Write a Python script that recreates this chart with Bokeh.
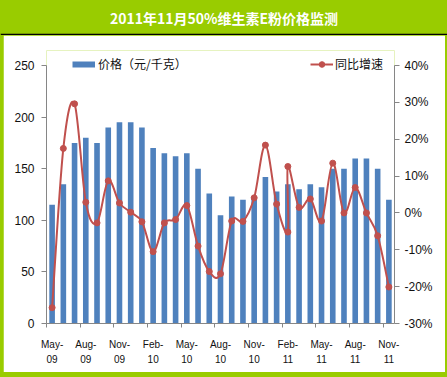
from bokeh.plotting import figure
from bokeh.models import (Range1d, LinearAxis, FixedTicker, Legend, LegendItem,
                          Label, PrintfTickFormatter)
from bokeh.layouts import column
from bokeh.embed import file_html
from bokeh.resources import INLINE

TITLE = "2011年11月50%维生素E粉价格监测"
BAR_NAME = "价格（元/千克）"
LINE_NAME = "同比增速"

months = ["May-09", "Jun-09", "Jul-09", "Aug-09", "Sep-09", "Oct-09", "Nov-09", "Dec-09",
          "Jan-10", "Feb-10", "Mar-10", "Apr-10", "May-10", "Jun-10", "Jul-10", "Aug-10",
          "Sep-10", "Oct-10", "Nov-10", "Dec-10", "Jan-11", "Feb-11", "Mar-11", "Apr-11",
          "May-11", "Jun-11", "Jul-11", "Aug-11", "Sep-11", "Oct-11", "Nov-11"]
price = [115, 135, 175, 180, 175, 190, 195, 195, 190, 170, 165, 162, 165, 150, 126, 105,
         123, 120, 123, 142, 128, 135, 130, 135, 132, 150, 150, 160, 160, 150, 120]

# growth series (Feb-11 appears twice in the source line)
line_months = months[:22] + [months[21]] + months[22:]
growth = [-25.7, 17.5, 29.6, 2.9, -2.7, 8.7, 2.7, 0.2, -2.4, -10.5, -2.7, -1.8, 2.0, -9.0,
          -15.9, -16.5, -2.2, -2.3, 4.1, 18.4, 2.4, -5.2, 12.6, 1.5, 3.8, -2.2, 13.5, 0.0,
          6.9, 0.0, -6.2, -20.1]

tick_months = ["May-09", "Aug-09", "Nov-09", "Feb-10", "May-10", "Aug-10", "Nov-10",
               "Feb-11", "May-11", "Aug-11", "Nov-11"]
left_ticks = [0, 50, 100, 150, 200, 250]
right_ticks = [-30, -20, -10, 0, 10, 20, 30, 40]
left_bounds = (0, 250)
right_bounds = (-30, 40)

GREEN = "#99CC00"
BLUE = "#4F81BD"
RED = "#C0504D"
AXIS_GREY = "#868686"
LABEL_FONT = "Liberation Sans"
CJK_FONT = "Noto Sans CJK SC"

idx = {m: i for i, m in enumerate(months)}
bar_x = [idx[m] + 0.5 for m in months]
line_x = [idx[m] + 0.5 for m in line_months]

# plot-area geometry: axes span AXIS_PX pixels, the frame adds HEAD_PX on top for legends
AXIS_PX = 258
HEAD_PX = 15
scale = (AXIS_PX + HEAD_PX) / AXIS_PX
left_top = left_bounds[0] + (left_bounds[1] - left_bounds[0]) * scale
right_top = right_bounds[0] + (right_bounds[1] - right_bounds[0]) * scale

# ---------------- title strip ----------------
tf = figure(width=447, height=35, toolbar_location=None, output_backend="svg",
            x_range=Range1d(0, 1), y_range=Range1d(0, 1),
            x_axis_type=None, y_axis_type=None,
            min_border_left=0, min_border_right=0, min_border_top=0, min_border_bottom=2,
            background_fill_color=GREEN, border_fill_color="black", outline_line_color=None,
            frame_align=False)
tf.grid.visible = False
tf.add_layout(Label(x=0.5, y=0.5, text=TITLE, text_align="center", text_baseline="middle",
                    text_color="white", text_font=CJK_FONT, text_font_style="bold",
                    text_font_size="14px", y_offset=-1))

# ---------------- main chart ----------------
p = figure(width=442, height=337, toolbar_location=None, output_backend="svg",
           x_range=Range1d(0, len(months)), y_range=Range1d(left_bounds[0], left_top),
           min_border_left=43, min_border_right=51, min_border_top=30 - HEAD_PX,
           min_border_bottom=49,
           background_fill_color="white", border_fill_color="white",
           outline_line_color=None, x_axis_type=None, y_axis_type=None,
           margin=(0, 2, 5, 3), frame_align=False)
p.grid.visible = False
p.extra_y_ranges = {"pct": Range1d(right_bounds[0], right_top)}

bars = p.vbar(x=bar_x, top=price, width=0.5, fill_color=BLUE, line_color=None)

# smoothed line (Catmull-Rom style Bezier segments through the data points)
n = len(line_x)
def pt(i):
    i = max(0, min(n - 1, i))
    return line_x[i], growth[i]
bx0, by0, bx1, by1, bcx0, bcy0, bcx1, bcy1 = ([] for _ in range(8))
for i in range(n - 1):
    x0, y0 = pt(i)
    x1, y1 = pt(i + 1)
    xm, ym = pt(i - 1)
    xp, yp = pt(i + 2)
    bx0.append(x0); by0.append(y0); bx1.append(x1); by1.append(y1)
    bcx0.append(x0 + (x1 - xm) / 6.0); bcy0.append(y0 + (y1 - ym) / 6.0)
    bcx1.append(x1 - (xp - x0) / 6.0); bcy1.append(y1 - (yp - y0) / 6.0)
curve = p.bezier(x0=bx0, y0=by0, x1=bx1, y1=by1, cx0=bcx0, cy0=bcy0, cx1=bcx1, cy1=bcy1,
                 line_color=RED, line_width=2, y_range_name="pct")
marks = p.scatter(x=line_x, y=growth, size=6, marker="circle", fill_color=RED,
                  line_color=RED, y_range_name="pct")

# legend swatch for the bars: a thick blue stroke on the bar data, hidden in the plot
bar_swatch = p.line(x=bar_x, y=price, line_color=BLUE, line_width=6, line_cap="butt",
                    visible=False)

# axes
left = LinearAxis(ticker=FixedTicker(ticks=left_ticks), bounds=left_bounds)
right = LinearAxis(y_range_name="pct", ticker=FixedTicker(ticks=right_ticks),
                   formatter=PrintfTickFormatter(format="%d%%"), bounds=right_bounds)
label_pos = [idx[m] + 0.5 for m in tick_months]
bottom = LinearAxis(ticker=FixedTicker(ticks=label_pos,
                                       minor_ticks=[idx[m] for m in tick_months]))
bottom.major_label_overrides = {idx[m] + 0.5: m.replace("-", "-\n") for m in tick_months}

for ax in (left, right, bottom):
    ax.axis_line_color = AXIS_GREY
    ax.major_tick_line_color = AXIS_GREY
    ax.minor_tick_line_color = None
    ax.major_tick_in = 0
    ax.major_tick_out = 5
    ax.major_label_text_font = LABEL_FONT
    ax.major_label_text_color = "#111111"
    ax.major_label_text_font_size = "12px"
left.major_label_standoff = 7
right.major_label_standoff = 5
bottom.major_tick_out = 0
bottom.major_tick_line_color = None
bottom.minor_tick_line_color = AXIS_GREY
bottom.minor_tick_out = 4
bottom.minor_tick_in = 0
bottom.major_label_standoff = 11
bottom.major_label_text_font_size = "10px"
bottom.major_label_text_line_height = 1.4

p.add_layout(left, "left")
p.add_layout(right, "right")
p.add_layout(bottom, "below")

# legends (row centred on the top of the axes)
legend_y = AXIS_PX - 7
common = dict(orientation="horizontal", glyph_height=14, label_height=14,
              padding=0, margin=0, spacing=0, border_line_color=None,
              background_fill_alpha=0, inactive_fill_alpha=0, label_text_font=CJK_FONT,
              label_text_font_size="12px", label_text_color="#111111")
leg1 = Legend(items=[LegendItem(label=BAR_NAME, renderers=[bar_swatch])],
              location=(26, legend_y), glyph_width=23, label_standoff=3, **common)
leg2 = Legend(items=[LegendItem(label=LINE_NAME, renderers=[curve, marks])],
              location=(264, legend_y), glyph_width=23, label_standoff=2, **common)
p.add_layout(leg1)
p.add_layout(leg2)

layout = column(tf, p, styles={"background-color": GREEN})

open("out.html", "w").write(file_html(layout, INLINE))
